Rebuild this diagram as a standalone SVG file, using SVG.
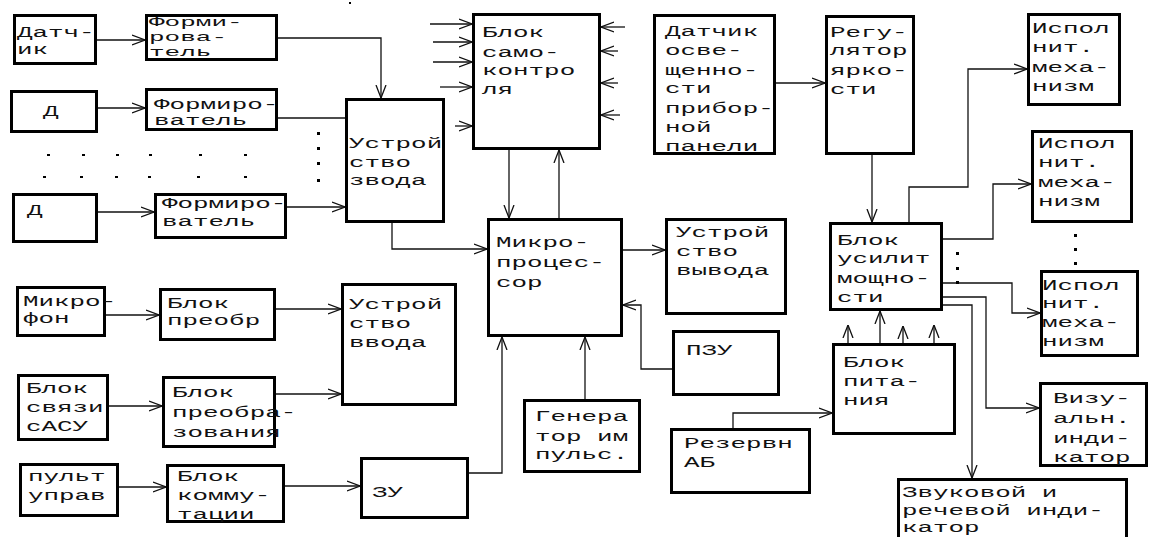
<svg xmlns="http://www.w3.org/2000/svg" width="1150" height="537" viewBox="0 0 1150 537">
<style>
.b{fill:#fff;stroke:#000;stroke-width:3}
.c{fill:none;stroke:#111;stroke-width:1.3}
.t{font-family:"Liberation Mono","DejaVu Sans Mono",monospace;font-size:14px;fill:#111}
.s{font-size:13px}
.d{fill:#000}
</style>
<defs>
<marker id="a" viewBox="0 0 13 12" refX="13" refY="6" markerWidth="13" markerHeight="12" markerUnits="userSpaceOnUse" orient="auto">
<path d="M0,1 L13,6 L0,11" fill="none" stroke="#111" stroke-width="1.3"/>
</marker>
</defs>
<rect width="1150" height="537" fill="#fff"/>

<g id="connectors">
<path class="c" d="M97,40H145" marker-end="url(#a)"/>
<path class="c" d="M98,108H145" marker-end="url(#a)"/>
<path class="c" d="M98,212H154" marker-end="url(#a)"/>
<path class="c" d="M106,315H159" marker-end="url(#a)"/>
<path class="c" d="M109,406H162" marker-end="url(#a)"/>
<path class="c" d="M119,487H166" marker-end="url(#a)"/>
<path class="c" d="M278,38H381V98" marker-end="url(#a)"/>
<path class="c" d="M278,118H345"/>
<path class="c" d="M287,207H345" marker-end="url(#a)"/>
<path class="c" d="M392,223V249H487" marker-end="url(#a)"/>
<path class="c" d="M276,309H341" marker-end="url(#a)"/>
<path class="c" d="M276,394H341" marker-end="url(#a)"/>
<path class="c" d="M285,486H360" marker-end="url(#a)"/>
<path class="c" d="M469,473H502V337" marker-end="url(#a)"/>
<path class="c" d="M585,399V337" marker-end="url(#a)"/>
<path class="c" d="M672,369H641V305H623" marker-end="url(#a)"/>
<path class="c" d="M623,250H665" marker-end="url(#a)"/>
<path class="c" d="M509,150V218" marker-end="url(#a)"/>
<path class="c" d="M559,218V150" marker-end="url(#a)"/>
<path class="c" d="M430,24H472" marker-end="url(#a)"/>
<path class="c" d="M433,42H472" marker-end="url(#a)"/>
<path class="c" d="M433,62H472" marker-end="url(#a)"/>
<path class="c" d="M440,87H472" marker-end="url(#a)"/>
<path class="c" d="M455,126H472" marker-end="url(#a)"/>
<path class="c" d="M625,27H601" marker-end="url(#a)"/>
<path class="c" d="M618,51H601" marker-end="url(#a)"/>
<path class="c" d="M618,83H601" marker-end="url(#a)"/>
<path class="c" d="M620,115H601" marker-end="url(#a)"/>
<path class="c" d="M776,83H825" marker-end="url(#a)"/>
<path class="c" d="M872,155V222" marker-end="url(#a)"/>
<path class="c" d="M909,222V187H968V69H1027" marker-end="url(#a)"/>
<path class="c" d="M943,239H993V184H1031" marker-end="url(#a)"/>
<path class="c" d="M943,283H1012V313H1040" marker-end="url(#a)"/>
<path class="c" d="M943,297H986V408H1039" marker-end="url(#a)"/>
<path class="c" d="M943,305H972V478" marker-end="url(#a)"/>
<path class="c" d="M848,343V325" marker-end="url(#a)"/>
<path class="c" d="M880,343V311" marker-end="url(#a)"/>
<path class="c" d="M903,343V326" marker-end="url(#a)"/>
<path class="c" d="M934,343V325" marker-end="url(#a)"/>
<path class="c" d="M733,428V413H832" marker-end="url(#a)"/>
</g>

<g id="dots">
<rect class="d" x="47" y="154" width="3" height="2"/><rect class="d" x="82" y="154" width="3" height="2"/><rect class="d" x="116" y="154" width="3" height="2"/><rect class="d" x="149" y="154" width="3" height="2"/><rect class="d" x="199" y="154" width="3" height="2"/><rect class="d" x="244" y="154" width="3" height="2"/>
<rect class="d" x="43" y="176" width="3" height="2"/><rect class="d" x="80" y="176" width="3" height="2"/><rect class="d" x="115" y="176" width="3" height="2"/><rect class="d" x="148" y="176" width="3" height="2"/><rect class="d" x="197" y="176" width="3" height="2"/><rect class="d" x="244" y="176" width="3" height="2"/>
<rect class="d" x="317" y="132" width="3" height="3"/><rect class="d" x="317" y="147" width="3" height="3"/><rect class="d" x="317" y="162" width="3" height="3"/><rect class="d" x="317" y="179" width="3" height="3"/>
<rect class="d" x="956" y="252" width="3" height="3"/><rect class="d" x="956" y="267" width="3" height="3"/><rect class="d" x="956" y="281" width="3" height="3"/>
<rect class="d" x="1074" y="234" width="3" height="3"/><rect class="d" x="1074" y="248" width="3" height="3"/><rect class="d" x="1074" y="262" width="3" height="3"/>
<rect class="d" x="349" y="2" width="2" height="2"/>
</g>

<g id="n1"><rect class="b" x="14.5" y="15.5" width="81" height="48"/><text class="t" transform="translate(17 37) scale(1.85 1)"><tspan x="0" y="0">Датч-</tspan><tspan x="0" y="17">ик</tspan></text></g>
<g id="n2"><rect class="b" x="146.5" y="15.5" width="130" height="44"/><text class="t s" transform="translate(149 26) scale(2 1)"><tspan x="0" y="0">Форми-</tspan><tspan x="0" y="15">рова-</tspan><tspan x="0" y="30">тель</tspan></text></g>
<g id="n3"><rect class="b" x="11.5" y="91.5" width="85" height="40"/><text class="t" transform="translate(43 116) scale(1.85 1)">Д</text></g>
<g id="n4"><rect class="b" x="146.5" y="89.5" width="130" height="40"/><text class="t" transform="translate(154 109) scale(1.85 1)"><tspan x="0" y="0">Формиро-</tspan><tspan x="0" y="16">ватель</tspan></text></g>
<g id="n5"><rect class="b" x="13.5" y="194.5" width="83" height="47"/><text class="t" transform="translate(27 215) scale(1.85 1)">Д</text></g>
<g id="n6"><rect class="b" x="155.5" y="194.5" width="130" height="43"/><text class="t" transform="translate(162 208) scale(1.85 1)"><tspan x="0" y="0">Формиро-</tspan><tspan x="0" y="18">ватель</tspan></text></g>
<g id="n7"><rect class="b" x="17.5" y="287.5" width="87" height="48"/><text class="t" transform="translate(23 306) scale(1.85 1)"><tspan x="0" y="0">Микро-</tspan><tspan x="0" y="17">фон</tspan></text></g>
<g id="n8"><rect class="b" x="160.5" y="289.5" width="114" height="50"/><text class="t" transform="translate(167 308) scale(1.85 1)"><tspan x="0" y="0">Блок</tspan><tspan x="0" y="17">преобр</tspan></text></g>
<g id="n9"><rect class="b" x="18.5" y="375.5" width="89" height="64"/><text class="t" transform="translate(26 393) scale(1.85 1)"><tspan x="0" y="0">Блок</tspan><tspan x="0" y="19">связи</tspan><tspan x="0" y="38">сАСУ</tspan></text></g>
<g id="n10"><rect class="b" x="163.5" y="377.5" width="111" height="69"/><text class="t" transform="translate(172 397) scale(1.85 1)"><tspan x="0" y="0">Блок</tspan><tspan x="0" y="20">преобра-</tspan><tspan x="0" y="40">зования</tspan></text></g>
<g id="n11"><rect class="b" x="20.5" y="464.5" width="97" height="51"/><text class="t" transform="translate(28 481) scale(1.85 1)"><tspan x="0" y="0">пульт</tspan><tspan x="0" y="19">управ</tspan></text></g>
<g id="n12"><rect class="b" x="167.5" y="465.5" width="116" height="56"/><text class="t" transform="translate(177 481) scale(1.85 1)"><tspan x="0" y="0">Блок</tspan><tspan x="0" y="19">комму-</tspan><tspan x="0" y="38">тации</tspan></text></g>
<g id="n13"><rect class="b" x="346.5" y="99.5" width="97" height="122"/><text class="t" transform="translate(349 148) scale(1.85 1)"><tspan x="0" y="0">Устрой</tspan><tspan x="0" y="19">ство</tspan><tspan x="0" y="37">звода</tspan></text></g>
<g id="n14"><rect class="b" x="342.5" y="284.5" width="113" height="120"/><text class="t" transform="translate(349 309) scale(1.85 1)"><tspan x="0" y="0">Устрой</tspan><tspan x="0" y="19">ство</tspan><tspan x="0" y="38">ввода</tspan></text></g>
<g id="n15"><rect class="b" x="361.5" y="458.5" width="106" height="59"/><text class="t" transform="translate(372 497) scale(1.85 1)">ЗУ</text></g>
<g id="n16"><rect class="b" x="473.5" y="14.5" width="126" height="134"/><text class="t" transform="translate(482 37) scale(1.85 1)"><tspan x="0" y="0">Блок</tspan><tspan x="0" y="20">само-</tspan><tspan x="0" y="38">контро</tspan><tspan x="0" y="57">ля</tspan></text></g>
<g id="n17"><rect class="b" x="488.5" y="219.5" width="133" height="116"/><text class="t" transform="translate(496 247) scale(1.85 1)"><tspan x="0" y="0">Микро-</tspan><tspan x="0" y="20">процес-</tspan><tspan x="0" y="40">сор</tspan></text></g>
<g id="n18"><rect class="b" x="524.5" y="400.5" width="115" height="71"/><text class="t" transform="translate(535 421) scale(1.85 1)"><tspan x="0" y="0">Генера</tspan><tspan x="0" y="20">тор им</tspan><tspan x="0" y="38">пульс.</tspan></text></g>
<g id="n19"><rect class="b" x="666.5" y="219.5" width="119" height="94"/><text class="t" transform="translate(676 237) scale(1.85 1)"><tspan x="0" y="0">Устрой</tspan><tspan x="0" y="19">ство</tspan><tspan x="0" y="38">вывода</tspan></text></g>
<g id="n20"><rect class="b" x="673.5" y="331.5" width="105" height="63"/><text class="t" transform="translate(686 355) scale(1.85 1)">ПЗУ</text></g>
<g id="n21"><rect class="b" x="654.5" y="15.5" width="120" height="138"/><text class="t" transform="translate(665 36) scale(1.85 1)"><tspan x="0" y="0">Датчик</tspan><tspan x="0" y="19">осве-</tspan><tspan x="0" y="39">щенно-</tspan><tspan x="0" y="57">сти</tspan><tspan x="0" y="77">прибор-</tspan><tspan x="0" y="96">ной</tspan><tspan x="0" y="115">панели</tspan></text></g>
<g id="n22"><rect class="b" x="826.5" y="16.5" width="87" height="137"/><text class="t" transform="translate(830 37) scale(1.85 1)"><tspan x="0" y="0">Регу-</tspan><tspan x="0" y="18">лятор</tspan><tspan x="0" y="38">ярко-</tspan><tspan x="0" y="57">сти</tspan></text></g>
<g id="n23"><rect class="b" x="830.5" y="223.5" width="111" height="86"/><text class="t" transform="translate(837 245) scale(1.85 1)"><tspan x="0" y="0">Блок</tspan><tspan x="0" y="18">усилит</tspan><tspan x="0" y="38">мощно-</tspan><tspan x="0" y="57">сти</tspan></text></g>
<g id="n24"><rect class="b" x="833.5" y="344.5" width="121" height="89"/><text class="t" transform="translate(843 367) scale(1.85 1)"><tspan x="0" y="0">Блок</tspan><tspan x="0" y="19">пита-</tspan><tspan x="0" y="38">ния</tspan></text></g>
<g id="n25"><rect class="b" x="671.5" y="429.5" width="138" height="63"/><text class="t" transform="translate(684 448) scale(1.85 1)"><tspan x="0" y="0">Резервн</tspan><tspan x="0" y="19">АБ</tspan></text></g>
<g id="n26"><rect class="b" x="1028.5" y="14.5" width="91" height="90"/><text class="t" transform="translate(1032 33) scale(1.85 1)"><tspan x="0" y="0">Испол</tspan><tspan x="0" y="19">нит.</tspan><tspan x="0" y="39">меха-</tspan><tspan x="0" y="58">низм</tspan></text></g>
<g id="n27"><rect class="b" x="1032.5" y="131.5" width="99" height="90"/><text class="t" transform="translate(1038 148) scale(1.85 1)"><tspan x="0" y="0">Испол</tspan><tspan x="0" y="19">нит.</tspan><tspan x="0" y="39">меха-</tspan><tspan x="0" y="58">низм</tspan></text></g>
<g id="n28"><rect class="b" x="1041.5" y="271.5" width="96" height="84"/><text class="t" transform="translate(1042 290) scale(1.85 1)"><tspan x="0" y="0">Испол</tspan><tspan x="0" y="18">нит.</tspan><tspan x="0" y="37">меха-</tspan><tspan x="0" y="56">низм</tspan></text></g>
<g id="n29"><rect class="b" x="1040.5" y="383.5" width="106" height="82"/><text class="t" transform="translate(1053 403) scale(1.85 1)"><tspan x="0" y="0">Визу-</tspan><tspan x="0" y="20">альн.</tspan><tspan x="0" y="40">инди-</tspan><tspan x="0" y="59">катор</tspan></text></g>
<g id="n30"><rect class="b" x="898.5" y="479.5" width="228" height="80"/><text class="t" transform="translate(902 497) scale(1.85 1)"><tspan x="0" y="0">Звуковой и</tspan><tspan x="0" y="18">речевой инди-</tspan><tspan x="0" y="35">катор</tspan></text></g>
</svg>
